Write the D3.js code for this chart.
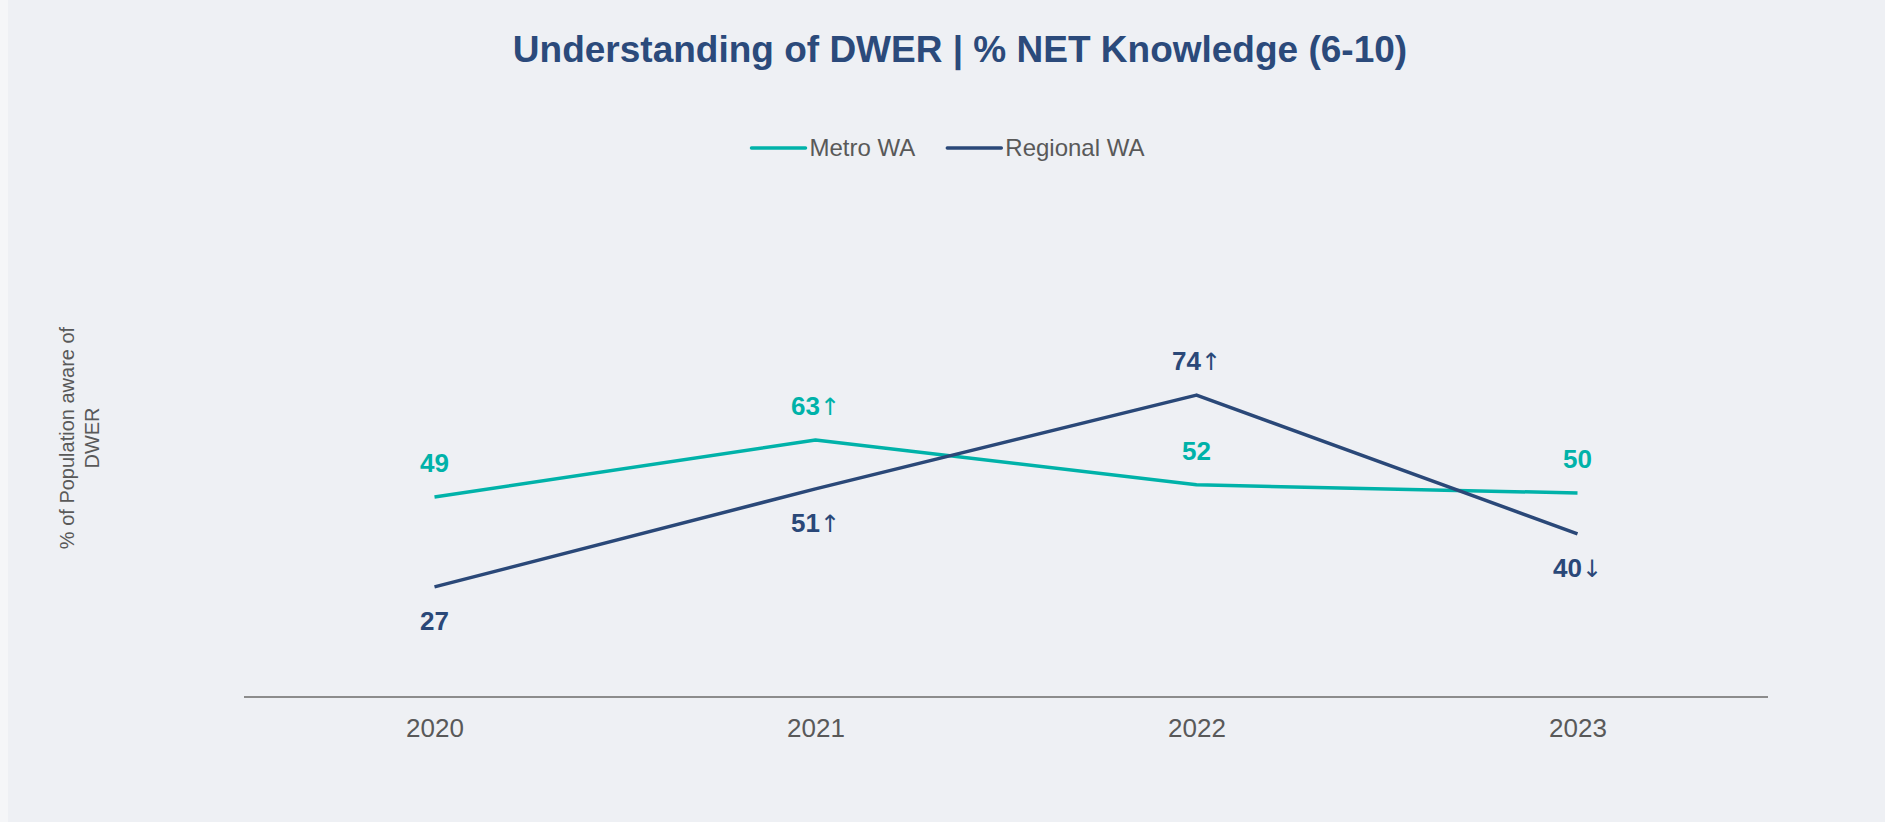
<!DOCTYPE html>
<html>
<head>
<meta charset="utf-8">
<script src="https://cdn.jsdelivr.net/npm/d3@7.9.0/dist/d3.min.js"></script>
<style>
  html, body { margin: 0; padding: 0; background: #eef0f4; }
  svg { display: block; font-family: Arial, "Liberation Sans", sans-serif; }
</style>
</head>
<body>
<svg id="chart" width="1885" height="822"></svg>
<script>
// data
const years = ['2020', '2021', '2022', '2023'];
const metroValues = [49, 63, 52, 50];
const regionalValues = [27, 51, 74, 40];
// significance arrows shown after each value
const metroArrows = ['', '↑', '', ''];
const regionalArrows = ['', '↑', '↑', '↓'];
// label above (-1) or below (+1) the point
const metroLabelSide = [-1, -1, -1, -1];
const regionalLabelSide = [1, 1, -1, 1];

const seriesNames = ['Metro WA', 'Regional WA'];
const seriesColors = ['#00b2a9', '#2a4878'];

const series = [
  { name: seriesNames[0], color: seriesColors[0], values: metroValues, arrows: metroArrows, side: metroLabelSide },
  { name: seriesNames[1], color: seriesColors[1], values: regionalValues, arrows: regionalArrows, side: regionalLabelSide }
];

const svg = d3.select('#chart');
const W = 1885, H = 822;

svg.append('rect').attr('width', W).attr('height', H).attr('fill', '#eef0f4');
svg.append('rect').attr('width', 8).attr('height', H).attr('fill', '#f5f6f8');

const x = d3.scalePoint().domain(years).range([244, 1768]).padding(0.5);
const y = d3.scaleLinear().domain([0, 100]).range([697, 289]);

// title
svg.append('text')
  .attr('x', 960).attr('y', 62)
  .attr('text-anchor', 'middle')
  .attr('font-size', 37).attr('font-weight', 'bold')
  .attr('fill', '#2b4a7b')
  .text('Understanding of DWER | % NET Knowledge (6-10)');

// legend
const legend = svg.append('g');
let lx = 0;
series.forEach((s, i) => {
  const g = legend.append('g').attr('transform', `translate(${lx},0)`);
  g.append('line').attr('x1', 0).attr('x2', 54).attr('y1', 0).attr('y2', 0)
    .attr('stroke', s.color).attr('stroke-width', 3.5).attr('stroke-linecap', 'round');
  const t = g.append('text').attr('x', 58).attr('y', 0).attr('dy', '0.35em')
    .attr('font-size', 24).attr('fill', '#595959').text(s.name);
  lx += 58 + t.node().getComputedTextLength() + 32;
});
const legendW = lx - 32;
legend.attr('transform', `translate(${948 - legendW / 2},148)`);

// y axis title
const yTitle = ['% of Population aware of', 'DWER'];
yTitle.forEach((line, i) => {
  svg.append('text')
    .attr('transform', `translate(${67 + i * 25},438) rotate(-90)`)
    .attr('text-anchor', 'middle').attr('dy', '0.35em')
    .attr('font-size', 20).attr('fill', '#595959')
    .text(line);
});

// x axis
const xAxis = svg.append('g')
  .attr('transform', `translate(0,${y(0)})`)
  .call(d3.axisBottom(x).tickSize(0).tickPadding(22));
xAxis.select('.domain').attr('d', `M244,0H1768`).attr('stroke', '#8c8c8c').attr('stroke-width', 2);
xAxis.selectAll('text').attr('font-size', 26).attr('fill', '#595959')
  .attr('font-family', 'Arial, "Liberation Sans", sans-serif');

// lines
const line = d3.line().x((d, i) => x(years[i])).y(d => y(d));
series.forEach(s => {
  svg.append('path')
    .attr('d', line(s.values))
    .attr('fill', 'none')
    .attr('stroke', s.color)
    .attr('stroke-width', 3.5)
    .attr('stroke-linejoin', 'round');
});

// data labels
series.forEach(s => {
  s.values.forEach((v, i) => {
    const t = svg.append('text')
      .attr('x', x(years[i]))
      .attr('y', y(v) + s.side[i] * 34)
      .attr('dy', '0.35em')
      .attr('text-anchor', 'middle')
      .attr('font-size', 26).attr('font-weight', 'bold')
      .attr('fill', s.color);
    t.append('tspan').text(v);
    if (s.arrows[i]) {
      t.append('tspan')
        .attr('font-weight', 'normal')
        .attr('font-family', '"DejaVu Sans", sans-serif')
        .attr('font-size', 24)
        .text(s.arrows[i]);
    }
  });
});
</script>
</body>
</html>
